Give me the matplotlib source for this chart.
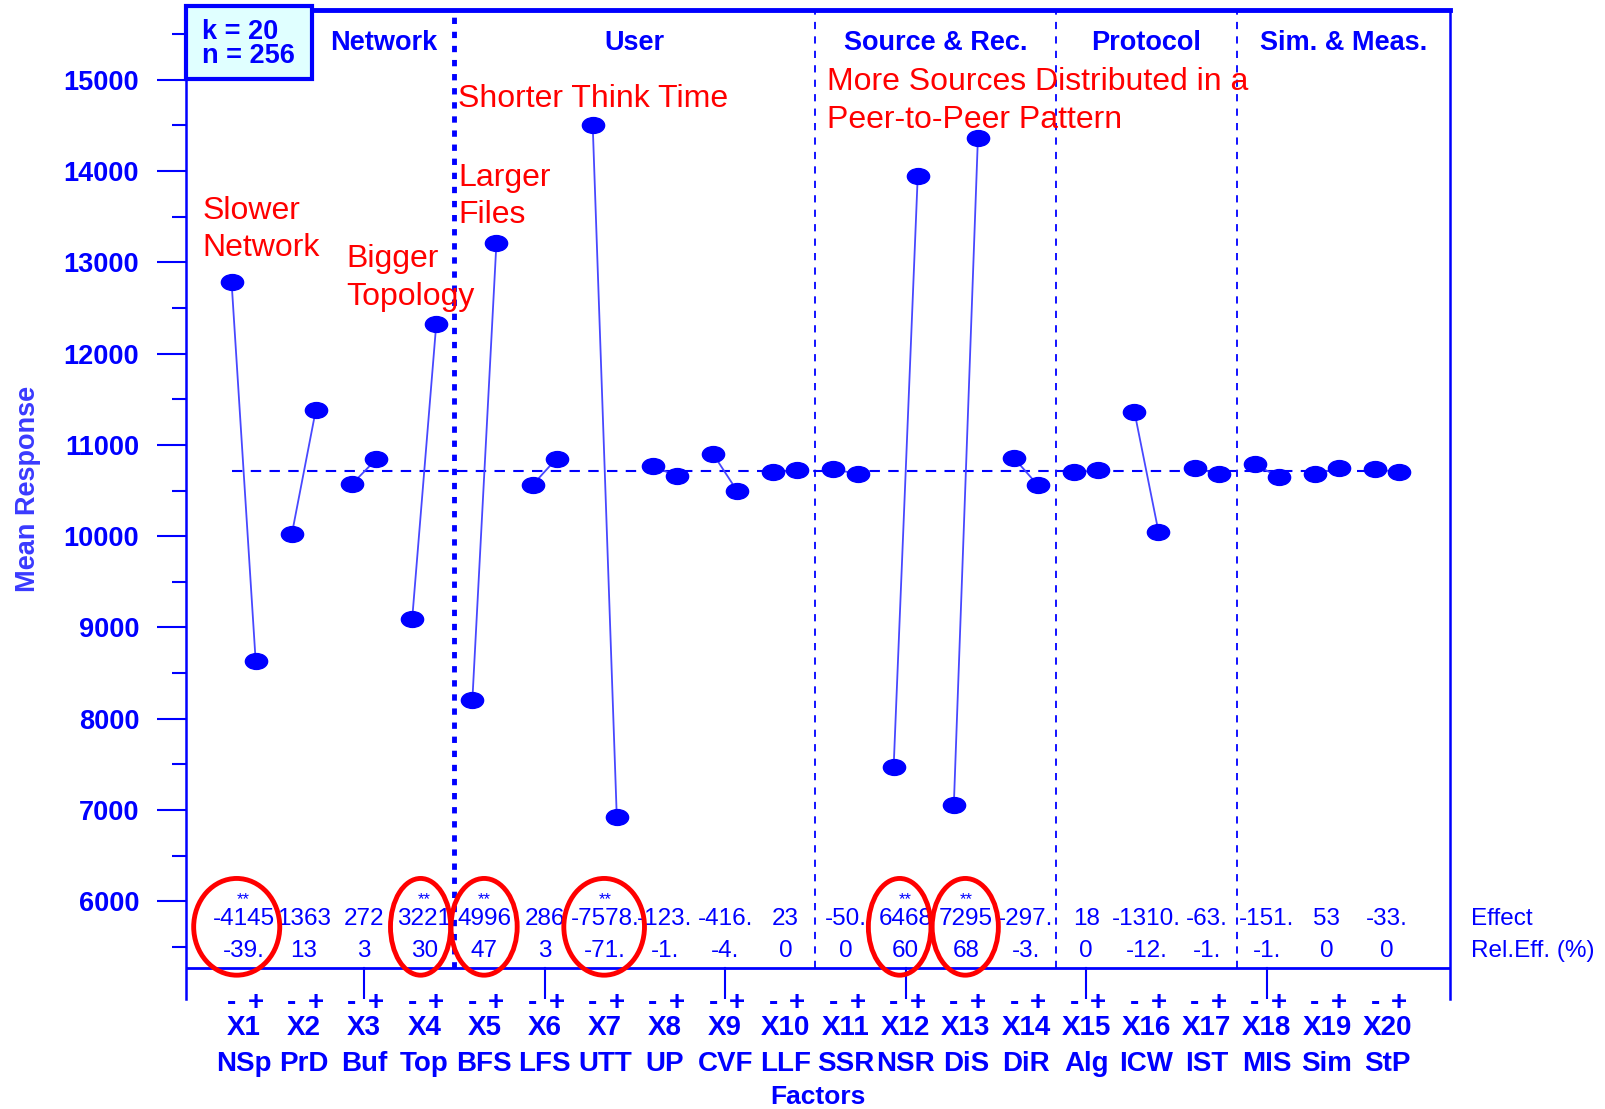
import numpy as np
import matplotlib
matplotlib.use("Agg")
import matplotlib.pyplot as plt
from matplotlib.patches import Ellipse, Rectangle
from matplotlib.path import Path

plt.rcParams["font.family"] = ["Liberation Sans", "DejaVu Sans"]

# mean response at the low (-) and high (+) level of each factor
factors = ["X1", "X2", "X3", "X4", "X5", "X6", "X7", "X8", "X9", "X10",
           "X11", "X12", "X13", "X14", "X15", "X16", "X17", "X18", "X19", "X20"]
names = ["NSp", "PrD", "Buf", "Top", "BFS", "LFS", "UTT", "UP", "CVF", "LLF",
         "SSR", "NSR", "DiS", "DiR", "Alg", "ICW", "IST", "MIS", "Sim", "StP"]
low = [12780, 10020, 10570, 9090, 8200, 10560, 14500, 10770, 10900, 10700,
       10735, 7470, 7055, 10855, 10700, 11365, 10745, 10790, 10680, 10735]
high = [8630, 11385, 10840, 12320, 13210, 10850, 6920, 10655, 10495, 10720,
        10680, 13945, 14365, 10555, 10720, 10050, 10680, 10645, 10745, 10700]
effect = ["-4145", "1363", "272", "3221", "4996", "286", "-7578.", "-123.", "-416.", "23",
          "-50.", "6468", "7295", "-297.", "18", "-1310.", "-63.", "-151.", "53", "-33."]
rel_eff = ["-39.", "13", "3", "30", "47", "3", "-71.", "-1.", "-4.", "0",
           "0", "60", "68", "-3.", "0", "-12.", "-1.", "-1.", "0", "0"]
significant = ["X1", "X4", "X5", "X7", "X12", "X13"]
grand_mean = 10715

groups = ["Network", "User", "Source & Rec.", "Protocol", "Sim. & Meas."]
group_bounds = [4.5, 10.5, 14.5, 17.5]

notes = [("Slower\nNetwork", 0.32, 13360),
         ("Bigger\nTopology", 2.70, 12830),
         ("Larger\nFiles", 4.56, 13720),
         ("Shorter Think Time", 4.56, 14795),
         ("More Sources Distributed in a\nPeer-to-Peer Pattern", 10.69, 14770)]

BLUE = "#0000ff"
RED = "#ff0000"

fig = plt.figure(figsize=(16.06, 11.09), dpi=100)
ax = fig.add_axes([0.1161, 0.0996, 0.9031 - 0.1161, 0.9908 - 0.0996])
ax.set_xlim(0.05, 21.05)
ax.set_ylim(4933, 15763)
base = 5270  # horizontal line under the effect table

# ellipse shaped marker
circ = Path.unit_circle()
ell = Path(circ.vertices * np.array([1.4, 1.0]), circ.codes)

pos = np.arange(1, len(factors) + 1)
for i, lo, hi in zip(pos, low, high):
    ax.plot([i - 0.2, i + 0.2], [lo, hi], color="#4848ff", lw=1.3, zorder=3)
    ax.plot([i - 0.2, i + 0.2], [lo, hi], ls="none", marker=ell, ms=16,
            color=BLUE, zorder=4)

ax.plot([0.8, 20.4], [grand_mean, grand_mean], color=BLUE, lw=1.5,
        dashes=(5, 4), zorder=2)

# group separators
for k, b in enumerate(group_bounds):
    if k == 0:
        ax.plot([b, b], [base, 15763], color=BLUE, lw=3.5, dashes=(1.3, 1.6), zorder=2)
    else:
        ax.plot([b, b], [base, 15763], color=BLUE, lw=1.3, dashes=(4, 4), zorder=2)

edges = [0.05] + group_bounds + [21.05]
for k, g in enumerate(groups):
    cx = (edges[k] + edges[k + 1]) / 2
    if k == 0:
        cx = (2.14 + 4.5) / 2
    ax.text(cx, 15400, g, color=BLUE, fontsize=19.5, fontweight="bold",
            ha="center", va="center")

# k / n box
ax.add_patch(Rectangle((0.05, 15010), 2.09, 800, facecolor="#e0ffff",
                       edgecolor=BLUE, lw=3, zorder=5, clip_on=False))
ax.text(0.31, 15390, "k = 20\nn = 256", color=BLUE, fontsize=19.5,
        fontweight="bold", ha="left", va="center", linespacing=0.92, zorder=6)

# effect table
for i, f, e, r in zip(pos, factors, effect, rel_eff):
    ax.text(i, 5808, e, color=BLUE, fontsize=17.5, ha="center", va="center")
    ax.text(i, 5449, r, color=BLUE, fontsize=17.5, ha="center", va="center")
    if f in significant:
        ax.text(i, 6020, "**", color=BLUE, fontsize=12, ha="center", va="center")
ax.text(21.4, 5808, "Effect", color=BLUE, fontsize=17.5, ha="left",
        va="center", clip_on=False)
ax.text(21.4, 5449, "Rel.Eff. (%)", color=BLUE, fontsize=17.5, ha="left",
        va="center", clip_on=False)

ax.axhline(base, color=BLUE, lw=2)
for i in [3, 6, 9, 12, 15, 18]:
    ax.plot([i, i], [4933, base], color=BLUE, lw=1.5)

# red circles around the significant effects
circles = [(0.885, 1.43), (3.94, 1.0), (4.995, 1.1), (6.99, 1.34), (11.9, 1.04), (12.99, 1.1)]
for cx, w in circles:
    ax.add_patch(Ellipse((cx, 5719), w, 1060, fill=False, edgecolor=RED,
                         lw=3.5, zorder=6, clip_on=False))

for txt, x, y in notes:
    ax.text(x, y, txt, color=RED, fontsize=23, ha="left", va="center",
            linespacing=1.32, zorder=7)

# x labels below the axes
for i, f, n in zip(pos, factors, names):
    ax.text(i - 0.2, 4888, "-", color=BLUE, fontsize=20, fontweight="bold",
            ha="center", va="center", clip_on=False)
    ax.text(i + 0.2, 4888, "+", color=BLUE, fontsize=20, fontweight="bold",
            ha="center", va="center", clip_on=False)
    ax.text(i, 4607, f, color=BLUE, fontsize=20, fontweight="bold",
            ha="center", va="center", clip_on=False)
    ax.text(i, 4214, n, color=BLUE, fontsize=20, fontweight="bold",
            ha="center", va="center", clip_on=False)
ax.text(10.55, 3855, "Factors", color=BLUE, fontsize=19, fontweight="bold",
        ha="center", va="center", clip_on=False)

fig.text(0.0172, 0.5595, "Mean Response", color="#3a3aff", fontsize=19.5,
         fontweight="bold", rotation=90, ha="center", va="center")

# axes frame and ticks
ax.set_xticks([])
ax.set_yticks(range(6000, 15001, 1000))
ax.set_yticks(range(5500, 15501, 1000), minor=True)
ax.tick_params(axis="y", which="major", length=21, width=1.5, color=BLUE,
               labelcolor=BLUE, labelsize=19.5, pad=13)
ax.tick_params(axis="y", which="minor", length=10, width=1.5, color=BLUE)
for lab in ax.get_yticklabels():
    lab.set_fontweight("bold")
ax.spines["bottom"].set_visible(False)
ax.spines["top"].set_linewidth(3.5)
ax.spines["top"].set_color(BLUE)
for s in ["left", "right"]:
    ax.spines[s].set_linewidth(1.8)
    ax.spines[s].set_color(BLUE)

fig.savefig("out.png", dpi=100)
